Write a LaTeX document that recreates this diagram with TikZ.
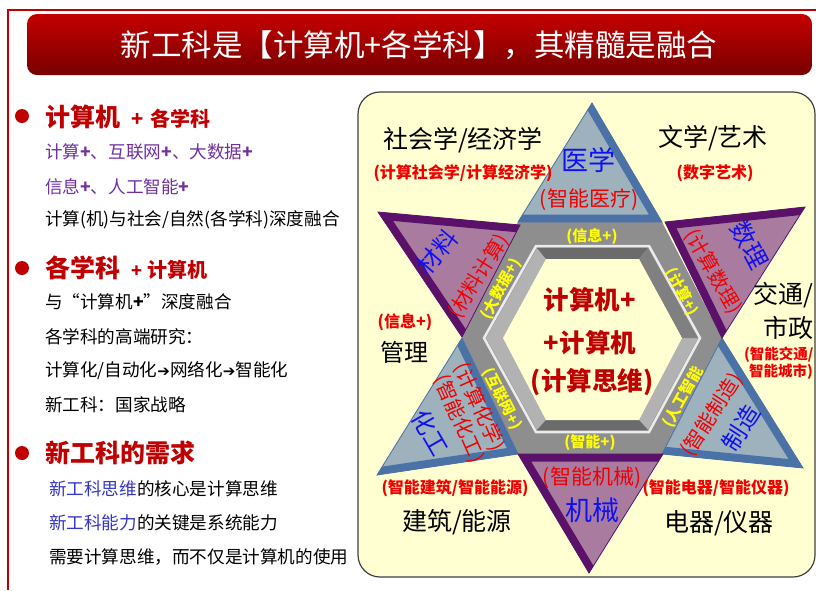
\documentclass[tikz,border=0pt]{standalone}
\usepackage{fontspec}
\setmainfont{Noto Sans CJK SC}
\newfontfamily\dejavu{DejaVu Sans}
\definecolor{dred}{HTML}{C00000}
\definecolor{tbtop}{HTML}{C40000}
\definecolor{tbbot}{HTML}{780000}
\definecolor{purp}{HTML}{7030A0}
\definecolor{bluetx}{HTML}{3535C8}
\definecolor{panelc}{HTML}{FFFFD2}
\definecolor{gbfill}{HTML}{9DB2BC}
\definecolor{gbedge}{HTML}{4A72A6}
\definecolor{mvfill}{HTML}{A97C9F}
\definecolor{mvedge}{HTML}{5B1169}
\definecolor{hexband}{HTML}{8E8E8E}
\definecolor{trired}{HTML}{F00000}
\definecolor{triblue}{HTML}{1010F0}
\definecolor{bandyel}{HTML}{FFFF00}
\newcommand{\fs}[1]{\fontsize{#1}{#1}\selectfont}
\newcommand{\mytri}[5]{%
  \fill[#1] #3 -- #4 -- #5 -- cycle;
  \begin{scope}
    \clip #3 -- #4 -- #5 -- cycle;
    \draw[#2, line width=15pt, line join=miter] #3 -- #4 -- #5;
  \end{scope}
  \draw[#2, line width=0.8pt, line join=miter] #3 -- #4 -- #5 -- cycle;
}
\tikzset{
  every node/.style={inner sep=0pt, outer sep=0pt},
  body/.style={anchor=west, font=\fs{17.6}},
  headtxt/.style={anchor=west, text=dred, font=\bfseries},
  bulletdot/.style={circle, fill=dred, minimum size=14pt},
  bigblack/.style={font=\fs{25}, text=black},
  smallred/.style={font=\fs{16}\bfseries, text=trired},
  tribluetxt/.style={text=triblue},
  triredtxt/.style={text=trired},
  bandtxt/.style={text=bandyel, font=\fs{15}\bfseries},
  centertxt/.style={text=dred, font=\fs{25.5}\bfseries},
}
\begin{document}
\begin{tikzpicture}[x=1pt,y=-1pt]
\useasboundingbox (0,0) rectangle (816,590);
\fill[white] (0,0) rectangle (816,590);
% frame
\draw[dred, line width=1.5pt] (8,590) -- (8,10) -- (816,10);
% title bar
\shade[rounded corners=10pt, top color=tbtop, bottom color=tbbot] (27,14) rectangle (812,75);
\node (title) at (419,45) {\fs{30.5}\color{white}新工科是【计算机+各学科】，其精髓是融合};

% left column
\node[bulletdot] (b1) at (22,116) {};
\node[headtxt] (h1) at (45,117) {\fs{25}计算机\hspace{11pt}\fs{20}+\hspace{7pt}各学科};
\node[body, text=purp] (l1) at (45,152) {计算{\bfseries+}、互联网{\bfseries+}、大数据{\bfseries+}};
\node[body, text=purp] (l2) at (45,187) {信息{\bfseries+}、人工智能{\bfseries+}};
\node[body] (l3) at (45,220) {计算(机)与社会/自然(各学科)深度融合};

\node[bulletdot] (b2) at (22,268) {};
\node[headtxt] (h2) at (45,268) {\fs{25}各学科\hspace{11pt}\fs{18}+\hspace{6pt}\fs{20}计算机};
\node[body] (l4) at (45,302) {与“计算机{\bfseries+}”深度融合};
\node[body] (l5) at (45,337) {各学科的高端研究：};
\node[body] (l6) at (45,371) {计算化/自动化{\dejavu\fs{15}➔}网络化{\dejavu\fs{15}➔}智能化};
\node[body] (l7) at (45,405) {新工科：国家战略};

\node[bulletdot] (b3) at (22,453) {};
\node[headtxt] (h3) at (45,453) {\fs{25}新工科的需求};
\node[body] (l8) at (49,489) {{\color{bluetx}新工科思维}的核心是计算思维};
\node[body] (l9) at (49,523) {{\color{bluetx}新工科能力}的关键是系统能力};
\node[body] (l10) at (49,557) {需要计算思维，而不仅是计算机的使用};

% right panel
\draw[fill=panelc, draw=black!75, line width=1.2pt, rounded corners=22pt] (358,92) rectangle (815,577);

% hexagon band
\fill[hexband] (462,338) -- (518,222) -- (662,222) -- (722,338) -- (662,454) -- (518,454) -- cycle;
% inner bevel
\fill[black!30] (486,338) -- (537,248) -- (648,248) -- (698,338) -- (648,430) -- (537,430) -- cycle;
\fill[black!58] (537,248) -- (648,248) -- (639,259) -- (546,259) -- cycle;
\fill[black!50] (648,248) -- (698,338) -- (682,338) -- (639,259) -- cycle;
\fill[black!58] (546,420) -- (639,420) -- (648,430) -- (537,430) -- cycle;
\fill[panelc] (503,338) -- (546,259) -- (639,259) -- (682,338) -- (639,420) -- (546,420) -- cycle;
\draw[white!92!black, line width=2.5pt, line join=miter] (484,338) -- (536,246) -- (649,246) -- (700,338) -- (649,432) -- (536,432) -- cycle;

% star triangles
\mytri{gbfill}{gbedge}{(592,103)}{(662,222)}{(518,222)}
\mytri{gbfill}{gbedge}{(722,338)}{(803,468)}{(662,454)}
\mytri{gbfill}{gbedge}{(462,338)}{(518,454)}{(377,475)}
\mytri{mvfill}{mvedge}{(520,225)}{(378,212)}{(462,337)}
\mytri{mvfill}{mvedge}{(805,207)}{(665,222)}{(722,338)}
\mytri{mvfill}{mvedge}{(663,454)}{(518,454)}{(589,573)}

% band texts
\node[bandtxt] (bt1) at (592,237) {(信息+)};
\node[bandtxt, rotate=61] (bt2) at (501,289) {(大数据+)};
\node[bandtxt, rotate=-62] (bt3) at (682,292) {(计算+)};
\node[bandtxt, rotate=-63] (bt4) at (502,399) {(互联网+)};
\node[bandtxt, rotate=61] (bt5) at (683,397) {(人工智能};
\node[bandtxt] (bt6) at (590,443) {(智能+)};

% center
\node[centertxt] (c1) at (590,300) {计算机+};
\node[centertxt] (c2) at (590,343) {+计算机};
\node[centertxt] (c3) at (592,382) {(计算思维)};

% triangle texts
\node[tribluetxt, font=\fs{27}] (t1a) at (588,160) {医学};
\node[triredtxt, font=\fs{21}] (t1b) at (589,200) {(智能医疗)};
\node[tribluetxt, font=\fs{24}, rotate=50] (t2a) at (437,252) {材料};
\node[triredtxt, font=\fs{20}, rotate=58] (t2b) at (479,276) {(材料计算)};
\node[tribluetxt, font=\fs{25}, rotate=-62] (t3a) at (750,245) {数理};
\node[triredtxt, font=\fs{20}, rotate=-60] (t3b) at (713,272) {(计算数理)};
\node[triredtxt, font=\fs{20}, rotate=-66] (t4b) at (479,407) {(计算化学)};
\node[triredtxt, font=\fs{20}, rotate=-66] (t4c) at (459,419) {(智能化工)};
\node[tribluetxt, font=\fs{24}, rotate=-60] (t4a) at (430,433) {化工};
\node[triredtxt, font=\fs{20}, rotate=57] (t5b) at (712,415) {(智能制造)};
\node[tribluetxt, font=\fs{24}, rotate=57] (t5a) at (741,428) {制造};
\node[triredtxt, font=\fs{21}] (t6b) at (592,478) {(智能机械)};
\node[tribluetxt, font=\fs{27}] (t6a) at (592,510) {机械};

% outer labels
\node[bigblack] (o1) at (463,140) {社会学/经济学};
\node[smallred] (o1b) at (463,173) {(计算社会学/计算经济学)};
\node[bigblack] (o2) at (713,138) {文学/艺术};
\node[smallred] (o2b) at (715,173) {(数字艺术)};
\node[bigblack, anchor=west] (o3) at (753,295) {交通/};
\node[bigblack, anchor=west] (o3a) at (763,328) {市政};
\node[smallred, font=\fs{14.5}\bfseries, anchor=west] (o3b) at (744,355) {(智能交通/};
\node[smallred, font=\fs{14.5}\bfseries, anchor=west] (o3c) at (749,372) {智能城市)};
\node[smallred] (o4b) at (405,322) {(信息+)};
\node[bigblack, font=\fs{24}] (o4) at (404,352) {管理};
\node[smallred] (o5b) at (455,488) {(智能建筑/智能能源)};
\node[bigblack] (o5) at (457,522) {建筑/能源};
\node[smallred] (o6b) at (716,488) {(智能电器/智能仪器)};
\node[bigblack] (o6) at (719,523) {电器/仪器};
\end{tikzpicture}
\end{document}
